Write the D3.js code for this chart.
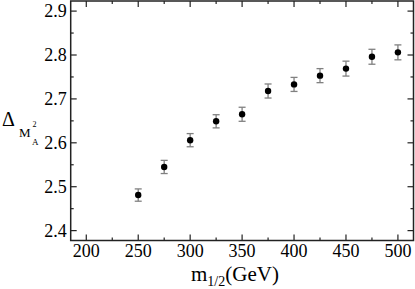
<!DOCTYPE html>
<html>
<head>
<meta charset="utf-8">
<script src="https://cdn.jsdelivr.net/npm/d3@7"></script>
<style>
  body { margin: 0; background: #fff; }
  svg { display: block; }
</style>
</head>
<body>
<svg id="chart" width="415" height="289" font-family="'Liberation Serif', 'Times New Roman', Times, 'DejaVu Serif', serif"></svg>
<script>
const d3 = window.d3;

// m_1/2 values (GeV)
const mHalf = [250, 275, 300, 325, 350, 375, 400, 425, 450, 475, 500];
// Delta values
const delta = [2.481, 2.545, 2.606, 2.649, 2.665, 2.718, 2.733, 2.753, 2.769, 2.796, 2.806];
// symmetric errors
const deltaErr = [0.014, 0.015, 0.015, 0.015, 0.016, 0.016, 0.016, 0.016, 0.017, 0.017, 0.017];

const xMajor = [200, 250, 300, 350, 400, 450, 500];
const xMinor = [225, 275, 325, 375, 425, 475];
const yMajor = [2.4, 2.5, 2.6, 2.7, 2.8, 2.9];
const yMinor = [2.45, 2.55, 2.65, 2.75, 2.85];

const svg = d3.select("#chart");

const plotLeft = 70.7, plotRight = 413.5, plotTop = 1, plotBottom = 240.5;

const x = d3.scaleLinear().domain([185, 515]).range([plotLeft, plotRight]);
const y = d3.scaleLinear().domain([2.3775, 2.923]).range([plotBottom, plotTop]);

const axisColor = "#222";

// frame
svg.append("rect")
    .attr("x", plotLeft).attr("y", plotTop)
    .attr("width", plotRight - plotLeft).attr("height", plotBottom - plotTop)
    .attr("fill", "none")
    .attr("stroke", axisColor)
    .attr("stroke-width", 1.5);

const ticks = svg.append("g").attr("stroke", axisColor).attr("stroke-width", 1.2);

function xTicks(vals, len) {
    vals.forEach(v => {
        ticks.append("line").attr("x1", x(v)).attr("x2", x(v)).attr("y1", plotBottom).attr("y2", plotBottom - len);
        ticks.append("line").attr("x1", x(v)).attr("x2", x(v)).attr("y1", plotTop).attr("y2", plotTop + len);
    });
}
function yTicks(vals, len) {
    vals.forEach(v => {
        ticks.append("line").attr("y1", y(v)).attr("y2", y(v)).attr("x1", plotLeft).attr("x2", plotLeft + len);
        ticks.append("line").attr("y1", y(v)).attr("y2", y(v)).attr("x1", plotRight).attr("x2", plotRight - len);
    });
}
xTicks(xMajor, 6);
xTicks(xMinor, 3);
yTicks(yMajor, 6);
yTicks(yMinor, 3);

// tick labels
svg.append("g").selectAll("text")
    .data(xMajor)
    .join("text")
    .attr("x", d => x(d))
    .attr("y", 257)
    .attr("text-anchor", "middle")
    .attr("font-size", 18)
    .text(d => d);

svg.append("g").selectAll("text")
    .data(yMajor)
    .join("text")
    .attr("x", plotLeft - 4)
    .attr("y", d => y(d) + 6)
    .attr("text-anchor", "end")
    .attr("font-size", 18)
    .text(d => d.toFixed(1));

// error bars
const eb = svg.append("g").attr("stroke", "#808080").attr("stroke-width", 1.3);
mHalf.forEach((m, i) => {
    const cx = x(m);
    const y1 = y(delta[i] - deltaErr[i]);
    const y2 = y(delta[i] + deltaErr[i]);
    eb.append("line").attr("x1", cx).attr("x2", cx).attr("y1", y1).attr("y2", y2);
    eb.append("line").attr("x1", cx - 3.5).attr("x2", cx + 3.5).attr("y1", y1).attr("y2", y1);
    eb.append("line").attr("x1", cx - 3.5).attr("x2", cx + 3.5).attr("y1", y2).attr("y2", y2);
});

// points
svg.append("g").selectAll("circle")
    .data(mHalf)
    .join("circle")
    .attr("cx", d => x(d))
    .attr("cy", (d, i) => y(delta[i]))
    .attr("r", 3.2)
    .attr("fill", "#000");

// x axis title
const xt = svg.append("text").attr("x", 191).attr("y", 281).attr("font-size", 21);
xt.append("tspan").text("m");
xt.append("tspan").attr("font-size", 14).attr("dy", 5).text("1/2");
xt.append("tspan").attr("dy", -5).text("(GeV)");

// y axis title
svg.append("text").attr("x", 2).attr("y", 126).attr("font-size", 20).text("\u0394");
svg.append("text").attr("x", 19).attr("y", 137).attr("font-size", 13).text("M");
svg.append("text").attr("x", 32.5).attr("y", 127).attr("font-size", 8).text("2");
svg.append("text").attr("x", 32).attr("y", 145).attr("font-size", 9).text("A");
</script>
</body>
</html>
